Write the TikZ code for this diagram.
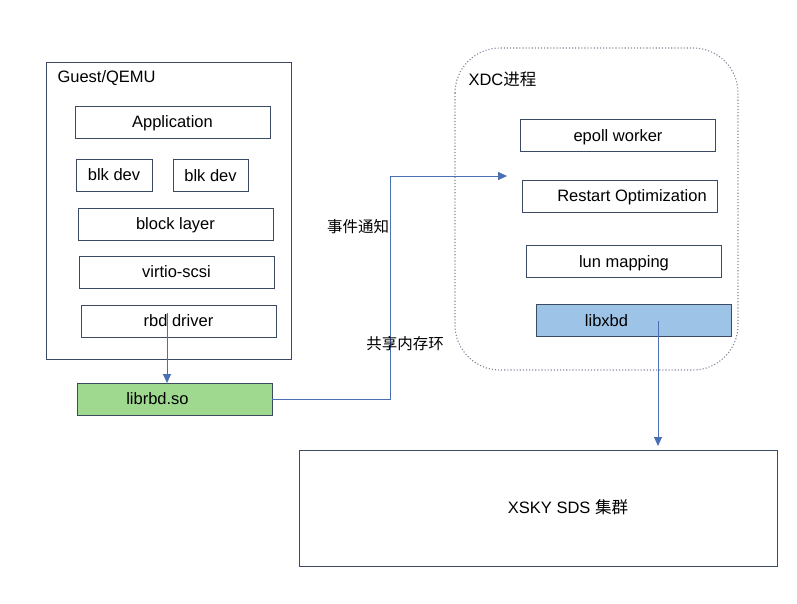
\documentclass[tikz,border=0pt]{standalone}
\usepackage{fontspec}
\setmainfont{Liberation Sans}
\newfontfamily\cjk{Noto Sans CJK SC}
\usetikzlibrary{arrows.meta, positioning, calc}
\definecolor{edgec}{HTML}{3B4B63}
\definecolor{arrowc}{HTML}{4A6FB5}
\definecolor{greenf}{HTML}{9ED98F}
\definecolor{bluef}{HTML}{9DC3E6}
\definecolor{dotc}{HTML}{7E8598}

\begin{document}
\begin{tikzpicture}[
    x=1pt, y=-1pt,
    txt/.style={font=\fontsize{16.5}{19}\selectfont, text height=11.8pt, text depth=0pt},
    layer/.style={draw=edgec, line width=0.8pt, minimum width=195pt, minimum height=32pt, txt},
    frame/.style={draw=edgec, line width=0.8pt},
    arrow/.style={draw=arrowc, line width=0.8pt, -{Triangle[length=9pt, width=8pt]}},
    lbl/.style={font=\fontsize{15.5}{18}\selectfont\cjk}
]
    \useasboundingbox (0,0) rectangle (797,603);
    % Guest side
    \draw[frame] (46,62) rectangle (291,359);
    \node[anchor=west, txt] (guest) at (54,77) {Guest/QEMU};
    \node[layer] (app) at (172.5,122) {Application};
    \node[layer, minimum width=76pt] (blk1) at (114,175) {blk dev};
    \node[layer, minimum width=75pt] (blk2) at (210.5,175.5) {blk dev};
    \node[layer] (block) at (175.5,224) {block layer};
    \node[layer] (virtio) at (176.5,272) {virtio-scsi};
    \node[layer] (rbd) at (178.5,321) {rbd driver};
    \node[layer, fill=greenf, label={[xshift=-17pt, txt]center:librbd.so}] (librbd) at (174.5,399) {};
    % XDC side
    \draw[draw=dotc, line width=1.1pt, dotted, rounded corners=45pt] (455,48) rectangle (738,370);
    \node[anchor=west, txt] (xdc) at (465,80) {XDC{\cjk 进程}};
    \node[layer] (epoll) at (618,135.5) {epoll worker};
    \node[layer, label={[xshift=12pt, txt]center:Restart Optimization}] (restart) at (620,196) {};
    \node[layer] (lun) at (624,261.5) {lun mapping};
    \node[layer, fill=bluef, label={[xshift=-27pt, txt]center:libxbd}] (libxbd) at (633.5,320.5) {};
    \node[layer, minimum width=478pt, minimum height=116pt, label={[xshift=30pt, txt]center:XSKY SDS {\cjk 集群}}] (sds) at (538,508) {};
    \coordinate (rbdout) at (167,313);
    \coordinate (rbdin) at (167,383);
    \coordinate (xbdout) at (658,321);
    \coordinate (sdsin) at (658,446);
    \coordinate (notify) at (507,176);
    % connectors
    \draw[arrow] (rbdout) -- (rbdin);
    \draw[arrow] (librbd.east) -| (390,176) -- (notify);
    \draw[arrow] (xbdout) -- (sdsin);
    \node[lbl] (evt) at (358,227) {事件通知};
    \node[lbl] (shm) at (405,344) {共享内存环};
\end{tikzpicture}
\end{document}
